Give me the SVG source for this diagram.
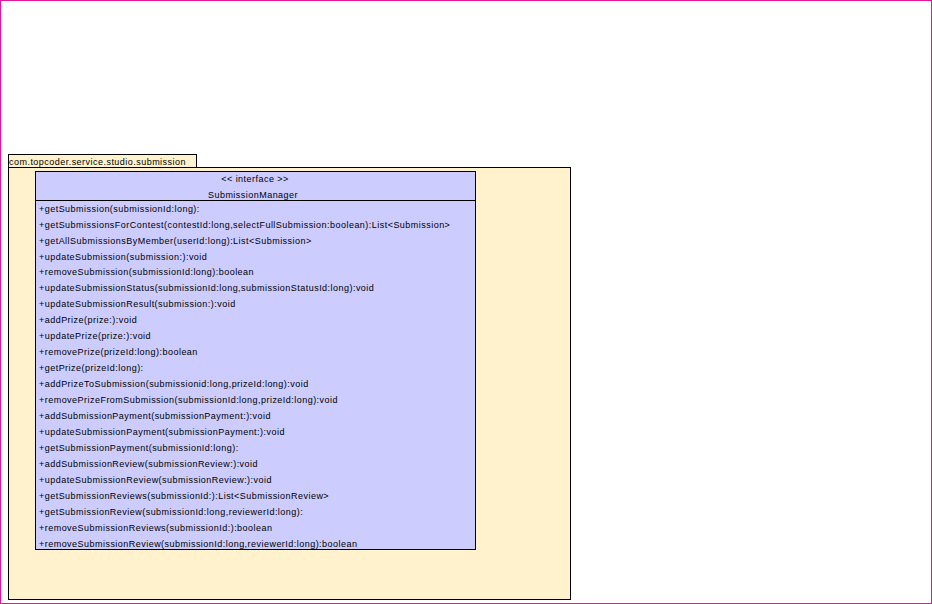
<svg xmlns="http://www.w3.org/2000/svg" width="932" height="604" viewBox="0 0 932 604">
<style>
.t{font-family:"Liberation Sans",Arial,sans-serif;font-size:9px;fill:#000;letter-spacing:0.47px}
.c{text-anchor:middle}
.pk{fill:#fff2cc;stroke:#000;stroke-width:1}
.cl{fill:#ccccff;stroke:#000;stroke-width:1}
</style>
<rect x="0.5" y="0.5" width="931" height="603" fill="#fff" stroke="#e4149b" stroke-width="1"/>
<g id="package">
<rect class="pk" x="8.5" y="154.5" width="188" height="13"/>
<rect class="pk" x="8.5" y="167.5" width="562" height="432"/>
<text class="t" x="9" y="164.5">com.topcoder.service.studio.submission</text>
</g>
<g id="SubmissionManager">
<rect class="cl" x="35.5" y="171.5" width="440" height="378"/>
<line x1="35.5" y1="200.5" x2="475.5" y2="200.5" stroke="#000"/>
<text class="t c" x="255" y="181.5">&lt;&lt; interface &gt;&gt;</text>
<text class="t c" x="253" y="197.5">SubmissionManager</text>
<g class="t">
<text class="t" x="39" y="211.5">+getSubmission(submissionId:long):</text>
<text class="t" x="39" y="227.5">+getSubmissionsForContest(contestId:long,selectFullSubmission:boolean):List&lt;Submission&gt;</text>
<text class="t" x="39" y="243.5">+getAllSubmissionsByMember(userId:long):List&lt;Submission&gt;</text>
<text class="t" x="39" y="259.5">+updateSubmission(submission:):void</text>
<text class="t" x="39" y="274.5">+removeSubmission(submissionId:long):boolean</text>
<text class="t" x="39" y="290.5">+updateSubmissionStatus(submissionId:long,submissionStatusId:long):void</text>
<text class="t" x="39" y="306.5">+updateSubmissionResult(submission:):void</text>
<text class="t" x="39" y="322.5">+addPrize(prize:):void</text>
<text class="t" x="39" y="338.5">+updatePrize(prize:):void</text>
<text class="t" x="39" y="354.5">+removePrize(prizeId:long):boolean</text>
<text class="t" x="39" y="370.5">+getPrize(prizeId:long):</text>
<text class="t" x="39" y="386.5">+addPrizeToSubmission(submissionid:long,prizeId:long):void</text>
<text class="t" x="39" y="402.5">+removePrizeFromSubmission(submissionId:long,prizeId:long):void</text>
<text class="t" x="39" y="418.5">+addSubmissionPayment(submissionPayment:):void</text>
<text class="t" x="39" y="434.5">+updateSubmissionPayment(submissionPayment:):void</text>
<text class="t" x="39" y="450.5">+getSubmissionPayment(submissionId:long):</text>
<text class="t" x="39" y="466.5">+addSubmissionReview(submissionReview:):void</text>
<text class="t" x="39" y="482.5">+updateSubmissionReview(submissionReview:):void</text>
<text class="t" x="39" y="498.5">+getSubmissionReviews(submissionId:):List&lt;SubmissionReview&gt;</text>
<text class="t" x="39" y="514.5">+getSubmissionReview(submissionId:long,reviewerId:long):</text>
<text class="t" x="39" y="530.5">+removeSubmissionReviews(submissionId:):boolean</text>
<text class="t" x="39" y="546.5">+removeSubmissionReview(submissionId:long,reviewerId:long):boolean</text>
</g>
</g>
<g id="connectors"/>
</svg>
